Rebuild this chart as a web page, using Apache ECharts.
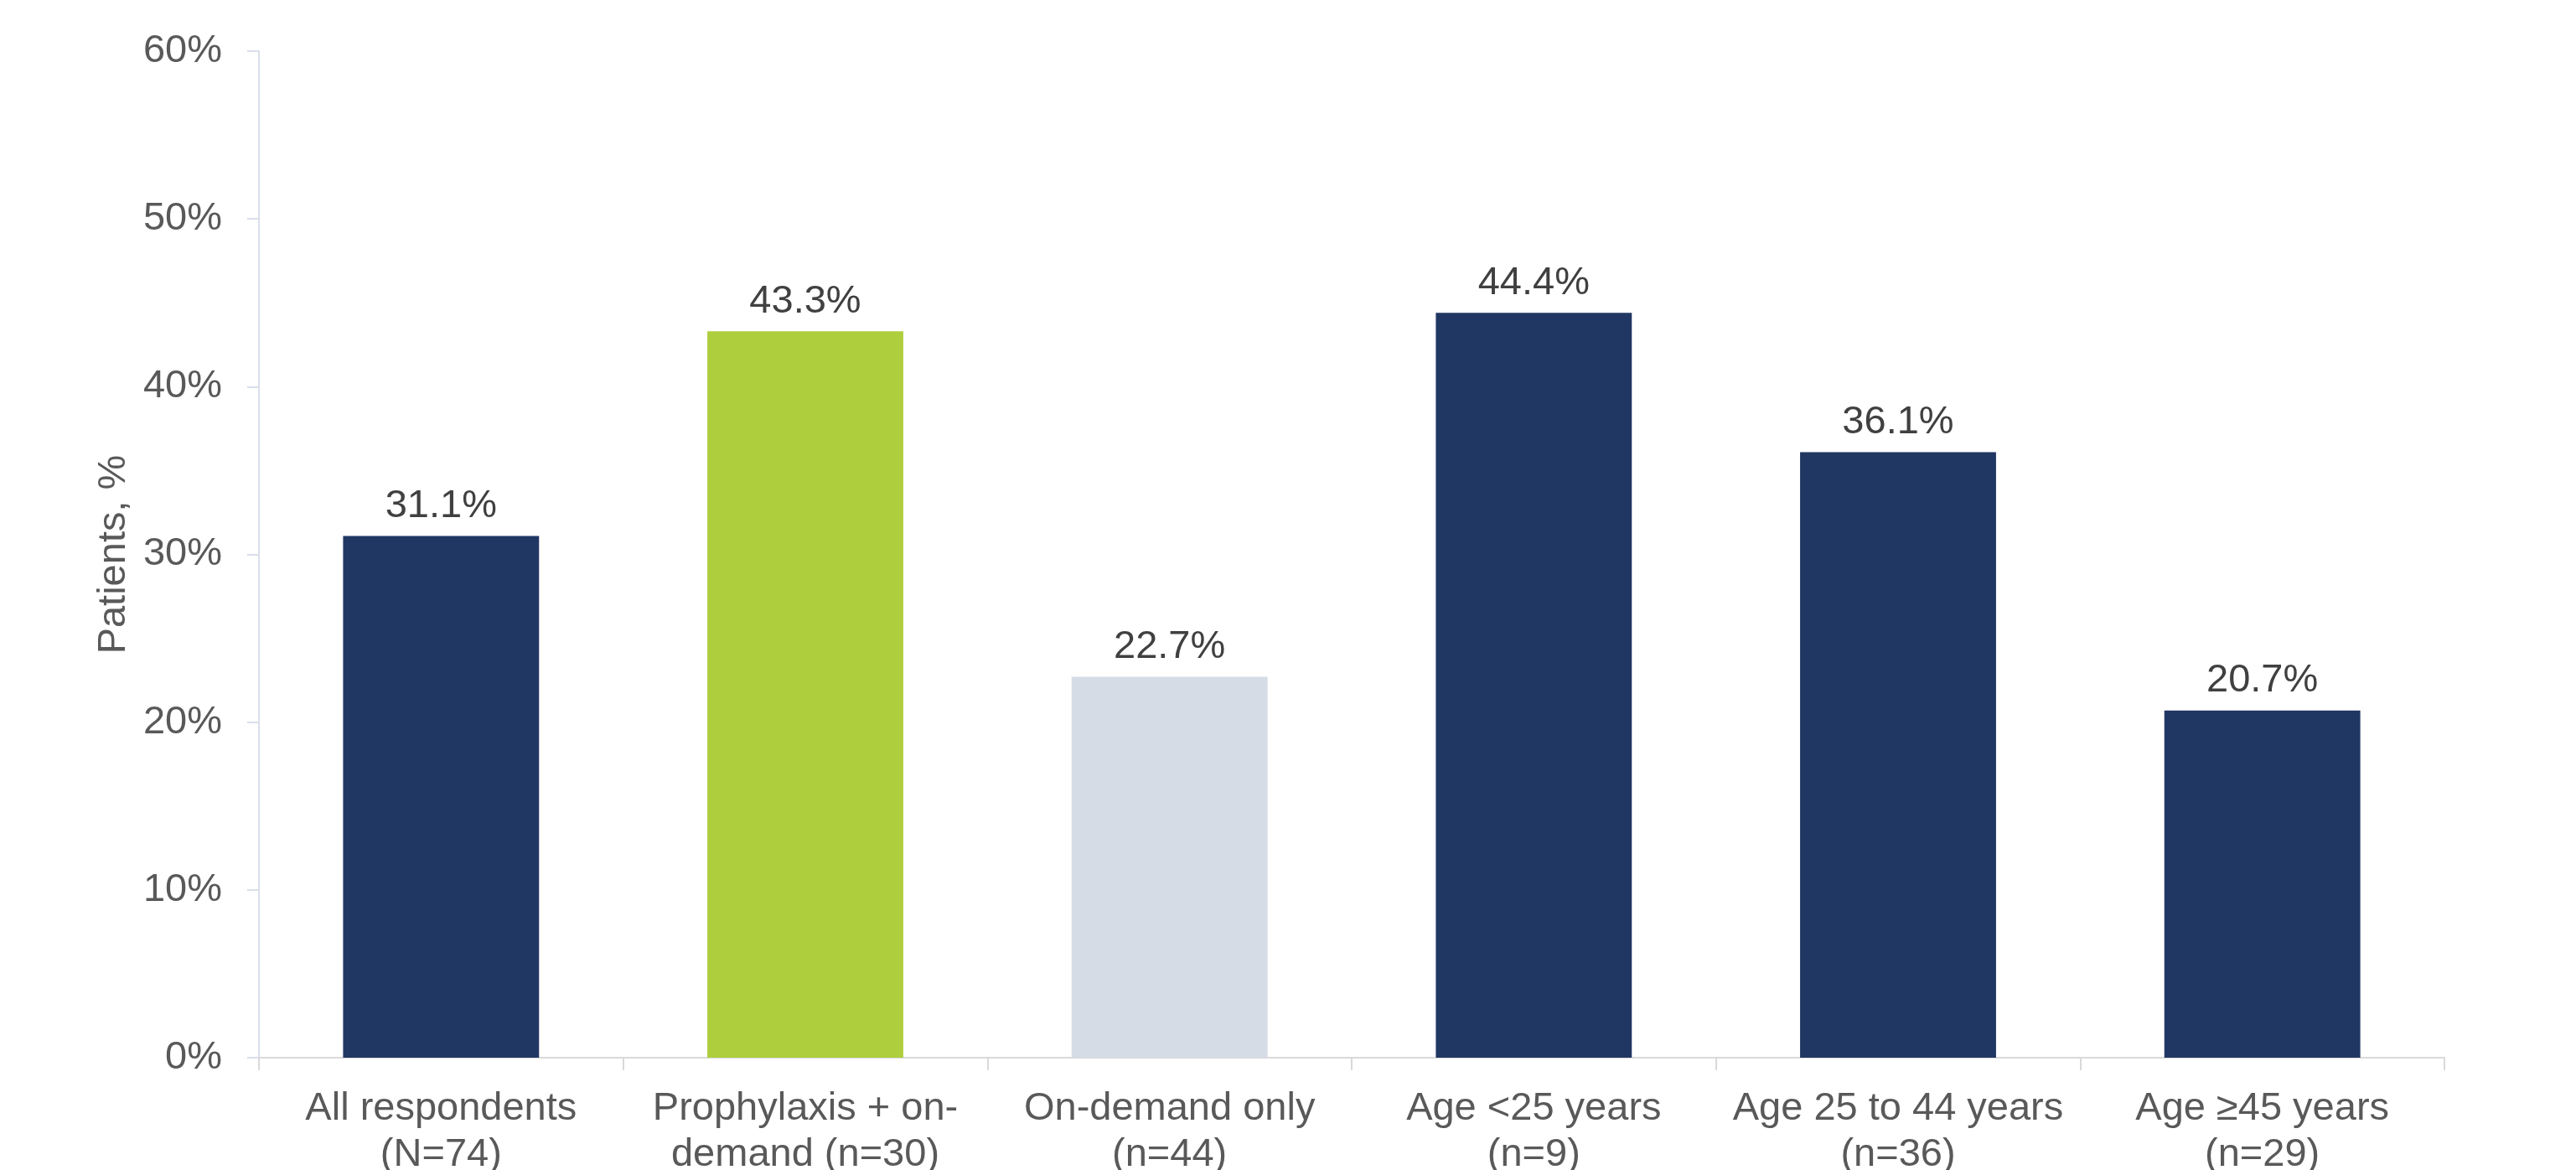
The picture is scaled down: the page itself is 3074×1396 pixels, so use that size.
<!DOCTYPE html>
<html>
<head>
<meta charset="utf-8">
<script src="https://cdn.jsdelivr.net/npm/echarts@6/dist/echarts.min.js"></script>
<style>
html,body{margin:0;padding:0;background:#fff;}
#chart{width:3074px;height:1396px;}
</style>
</head>
<body>
<div id="chart"></div>
<script>
const categories = [
  "All respondents\n(N=74)",
  "Prophylaxis + on-\ndemand (n=30)",
  "On-demand only\n(n=44)",
  "Age <25 years\n(n=9)",
  "Age 25 to 44 years\n(n=36)",
  "Age \u226545 years\n(n=29)"
];
const values = [31.1, 43.3, 22.7, 44.4, 36.1, 20.7];
const barColors = ["#213763", "#AECE3D", "#D6DCE5", "#213763", "#213763", "#213763"];
const yTicks = { min: 0, max: 60, interval: 10 };
const yAxisName = "Patients, %";

const FONT = '"Liberation Sans", Arial, sans-serif';
const chart = echarts.init(document.getElementById('chart'), null, { renderer: 'canvas' });
chart.setOption({
  animation: false,
  backgroundColor: '#ffffff',
  grid: { left: 309, right: 157, top: 61, bottom: 134, containLabel: false, outerBoundsMode: 'none' },
  xAxis: {
    type: 'category',
    data: categories,
    axisLine: { show: true, lineStyle: { color: '#D9D9D9', width: 2 } },
    axisTick: { show: true, alignWithLabel: false, length: 15, lineStyle: { color: '#D9D9D9', width: 2 } },
    axisLabel: { color: '#595959', fontSize: 47, fontFamily: FONT, lineHeight: 55, margin: 34, interval: 0 },
    splitLine: { show: false }
  },
  yAxis: {
    type: 'value',
    min: yTicks.min, max: yTicks.max, interval: yTicks.interval,
    name: yAxisName,
    nameLocation: 'middle',
    nameGap: 141,
    nameRotate: 90,
    nameTextStyle: { color: '#595959', fontSize: 47, fontFamily: FONT },
    axisLine: { show: true, lineStyle: { color: '#D9DEEA', width: 2 } },
    axisTick: { show: true, length: 14, lineStyle: { color: '#D9DEEA', width: 2 } },
    axisLabel: { color: '#595959', fontSize: 47, fontFamily: FONT, margin: 44, formatter: '{value}%' },
    splitLine: { show: false }
  },
  series: [{
    type: 'bar',
    barWidth: '53.8%',
    data: values.map((v, i) => ({ value: v, itemStyle: { color: barColors[i] } })),
    label: {
      show: true,
      position: 'top',
      distance: 12,
      color: '#404040',
      fontSize: 47,
      fontFamily: FONT,
      formatter: p => p.value.toFixed(1) + '%'
    }
  }]
});
</script>
</body>
</html>
